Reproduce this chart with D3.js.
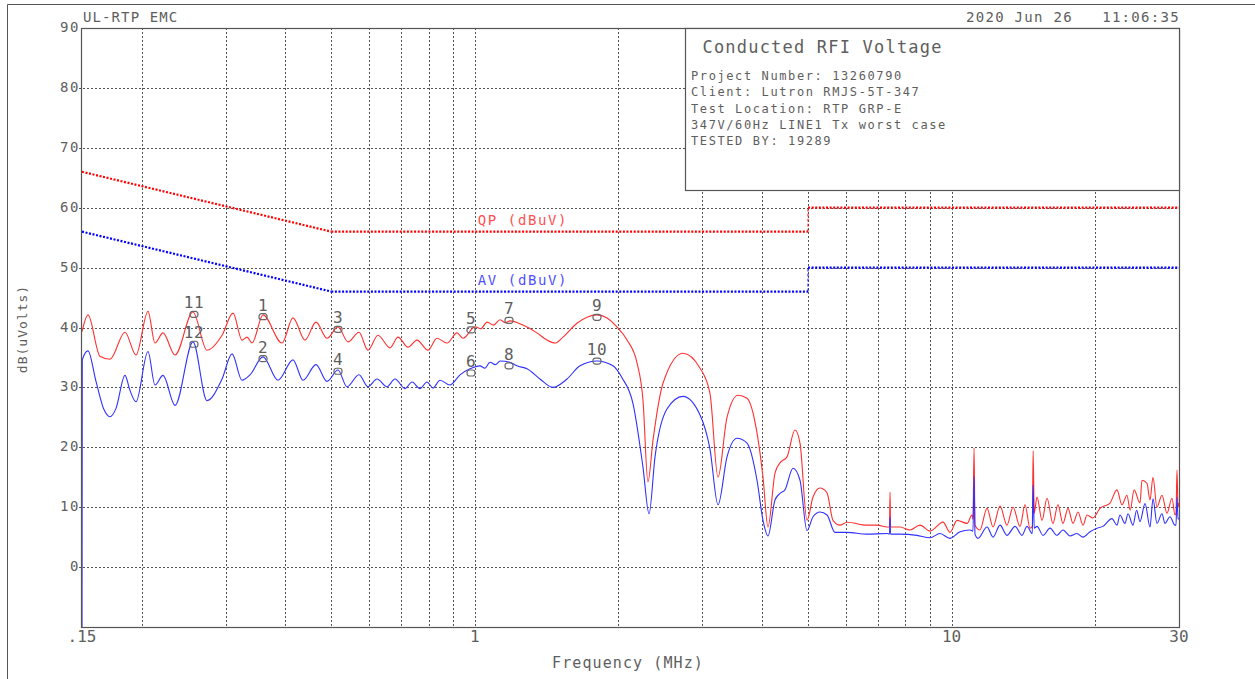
<!DOCTYPE html>
<html>
<head>
<meta charset="utf-8">
<script src="https://cdn.jsdelivr.net/npm/d3@7"></script>
<style>
  body { margin: 0; background: #fff; }
  svg { display: block; }
  text { font-family: "DejaVu Sans Mono", monospace; fill: #5e5e5e; white-space: pre; }
</style>
</head>
<body>
<svg id="emc-plot"></svg>
<script>
// QP trace (red), frequency in MHz / level in dBuV
const qpFreq = [0.150, 0.1544, 0.1636, 0.1717, 0.1846, 0.1947, 0.2063, 0.2134, 0.2218, 0.2351,
  0.2564, 0.2743, 0.2950, 0.3111, 0.3249, 0.3328, 0.3410, 0.3596, 0.3941, 0.4156,
  0.4404, 0.4644, 0.4898, 0.5165, 0.5421, 0.5716, 0.5970, 0.6266, 0.6640, 0.6901,
  0.7243, 0.7565, 0.7977, 0.8331, 0.8744, 0.9176, 0.9446, 1.001, 1.030, 1.061, 1.095, 1.130,
  1.160, 1.185, 1.262, 1.350, 1.417, 1.473, 1.531, 1.638, 1.719, 1.804, 1.894,
  1.987, 2.086, 2.189, 2.253, 2.308, 2.365, 2.482, 2.733, 2.968, 3.114,
  3.237, 3.381, 3.565, 3.724, 3.908, 4.023, 4.121, 4.263, 4.367, 4.517,
  4.695, 4.810, 4.975, 5.122, 5.298, 5.480, 5.641, 5.835, 6.036, 6.648,
  6.977, 7.322, 7.41, 7.43, 7.45, 7.796, 8.182, 8.587, 9.012, 9.596,
  9.926, 10.27, 10.78, 11.04, 11.09, 11.15, 11.20, 11.47, 11.87, 12.22,
  12.64, 13.07, 13.46, 13.92, 14.26, 14.61, 14.77, 14.83, 14.91, 15.11,
  15.48, 15.86, 16.32, 16.72, 17.13, 17.55, 17.98, 18.42, 18.87, 19.24,
  19.80, 20.48, 21.50, 22.23, 22.78, 23.33, 23.70, 24.15, 24.85, 25.09,
  25.70, 26.08, 26.46, 26.97, 27.63, 28.31, 29.00, 29.42, 29.57, 29.71,
  29.86, 30.00]
const qpLevel = [39.3, 42.1, 35.2, 34.7, 39.2, 35.4, 42.7, 37.4, 39.1, 35.4,
  42.6, 36.2, 38.7, 42.4, 37.9, 38.4, 37.4, 42.1, 37.4, 41.6,
  37.9, 40.9, 38.2, 40.1, 37.6, 39.2, 36.2, 38.7, 36.6, 38.4,
  36.7, 37.9, 36.2, 38.2, 37.4, 39.1, 38.2, 40.1, 39.8, 40.9, 40.4, 41.3,
  40.8, 41.1, 40.4, 39.1, 37.9, 37.4, 38.4, 40.7, 41.7, 42.1, 41.6,
  40.1, 37.9, 34.1, 27.9, 14.2, 21.2, 30.7, 35.7, 33.2, 29.0,
  15.0, 25.0, 28.7, 28.2, 22.4, 15.0, 6.7, 15.7, 17.4, 18.4,
  22.9, 20.7, 7.8, 11.7, 13.2, 12.4, 7.8, 7.0, 7.5, 7.0,
  7.0, 6.7, 6.7, 12.5, 6.7, 6.7, 6.2, 7.0, 6.0, 7.5,
  5.8, 7.8, 7.3, 8.7, 8.0, 19.9, 7.0, 6.2, 9.8, 6.7,
  10.2, 7.0, 10.0, 6.8, 10.4, 6.5, 6.8, 19.4, 9.0, 11.7,
  7.8, 11.5, 7.3, 10.4, 7.3, 9.8, 7.3, 9.2, 7.0, 8.7,
  8.2, 9.8, 10.7, 12.9, 10.4, 12.0, 9.5, 12.9, 10.7, 14.5,
  14.0, 11.2, 15.0, 10.0, 12.0, 9.0, 11.5, 8.7, 9.0, 16.2,
  10.0, 10.7]

// AV trace (blue)
const avFreq = [0.150, 0.1502, 0.1544, 0.1605, 0.1668, 0.1717, 0.1768, 0.1846, 0.1891, 0.1947,
  0.2063, 0.2134, 0.2218, 0.2351, 0.2564, 0.2743, 0.2950, 0.3096, 0.3249, 0.3377,
  0.3596, 0.3866, 0.4156, 0.4362, 0.4644, 0.4898, 0.5165, 0.5394, 0.5716, 0.5970,
  0.6236, 0.6544, 0.6802, 0.7139, 0.7384, 0.7675, 0.7939, 0.8172, 0.8453, 0.8871,
  0.9310, 0.9771, 1.025, 1.050, 1.076, 1.105, 1.130, 1.185, 1.226, 1.287, 1.370, 1.459,
  1.561, 1.662, 1.804, 1.949, 2.036, 2.147, 2.253, 2.320, 2.388, 2.530,
  2.733, 2.968, 3.114, 3.237, 3.381, 3.548, 3.724, 3.908, 4.023, 4.121,
  4.263, 4.367, 4.473, 4.650, 4.810, 4.975, 5.122, 5.298, 5.480, 5.696,
  6.036, 6.648, 7.322, 7.41, 7.43, 7.45, 7.796, 8.463, 9.012, 9.458,
  9.926, 10.42, 10.93, 11.09, 11.15, 11.20, 11.36, 11.87, 12.22, 12.64,
  13.07, 13.59, 14.05, 14.40, 14.77, 14.83, 14.91, 15.11, 15.56, 16.09,
  16.64, 17.13, 17.72, 18.33, 18.87, 19.52, 20.19, 20.78, 21.70, 22.23,
  22.56, 23.11, 23.45, 24.02, 24.45, 24.85, 25.46, 26.08, 26.46, 26.97,
  27.63, 28.04, 28.72, 29.42, 29.57, 29.71, 29.86, 30.00]
const avLevel = [-10, 34.6, 36.1, 31.0, 26.3, 25.1, 26.5, 32.0, 29.5, 27.6,
  36.0, 30.4, 32.0, 27.0, 37.6, 27.8, 31.4, 35.6, 31.2, 32.1,
  35.1, 31.2, 34.6, 31.2, 33.8, 31.0, 32.9, 30.1, 32.1, 30.1,
  31.4, 30.1, 31.4, 29.8, 30.9, 29.8, 30.9, 29.9, 31.2, 30.4,
  32.1, 33.1, 33.6, 33.2, 34.2, 33.8, 34.4, 34.2, 33.6, 33.1, 31.4, 30.0,
  31.4, 33.6, 34.4, 33.6, 31.6, 27.3, 16.7, 8.9, 18.4, 26.4,
  28.5, 25.4, 19.7, 10.4, 18.4, 21.5, 20.7, 14.5, 7.8, 5.2,
  11.2, 12.3, 12.9, 16.5, 14.5, 6.1, 8.4, 9.2, 8.7, 5.8,
  5.8, 5.5, 5.6, 5.5, 8.4, 5.5, 5.5, 5.3, 4.9, 5.6,
  4.8, 5.9, 6.2, 6.0, 15.1, 5.5, 4.8, 6.7, 5.0, 7.0,
  5.3, 6.8, 5.3, 6.8, 5.6, 13.7, 6.5, 6.8, 5.3, 6.5,
  5.3, 6.2, 5.2, 5.6, 5.0, 5.9, 6.5, 6.8, 8.1, 7.0,
  8.7, 7.3, 8.9, 7.0, 9.5, 7.6, 10.6, 6.7, 11.4, 7.3,
  8.9, 7.3, 8.4, 7.0, 7.0, 11.7, 8.0, 8.1]

// limit lines
const limitFreq = [0.15, 0.5, 5, 5, 30]
const qpLimit = [66, 56, 56, 60, 60]
const avLimit = [56, 46, 46, 50, 50]

// peak markers
const markerIds = ["11", "12", "1", "2", "3", "4", "5", "6", "7", "8", "9", "10"]
const markerFreq = [0.2576, 0.2576, 0.3596, 0.3596, 0.5165, 0.5165, 0.9819, 0.9819, 1.1797, 1.1797, 1.8043, 1.8043]
const markerLevel = [42.2, 37.2, 41.8, 34.8, 39.7, 32.7, 39.6, 32.4, 41.2, 33.6, 41.7, 34.4]

// axis ticks
const xTickValues = [0.15, 1, 10, 30]
const xTickLabels = [".15", "1", "10", "30"]
const yTickValues = [90, 80, 70, 60, 50, 40, 30, 20, 10, 0]

const infoLines = [
  "Project Number: 13260790",
  "Client: Lutron RMJS-5T-347",
  "Test Location: RTP GRP-E",
  "347V/60Hz LINE1 Tx worst case",
  "TESTED BY: 19289",
]

function conducted_rfi_plot() {

  // 1. Chart dimensions
  let dimensions = {
    width: 1255,
    height: 679,
    margin: {
      top: 28,
      right: 76,
      bottom: 52,
      left: 82,
    },
  }
  dimensions.boundedWidth = dimensions.width
    - dimensions.margin.left
    - dimensions.margin.right
  dimensions.boundedHeight = dimensions.height
    - dimensions.margin.top
    - dimensions.margin.bottom

  const GRID = "#555"

  // 2. Draw canvas
  const wrapper = d3.select("#emc-plot")
      .attr("width", dimensions.width)
      .attr("height", dimensions.height)

  wrapper.append("rect")
      .attr("width", dimensions.width)
      .attr("height", dimensions.height)
      .attr("fill", "#fff")

  // outer page frame (top + left edges only visible)
  wrapper.append("path")
      .attr("d", `M7.5,${dimensions.height} V4.5 H${dimensions.width}`)
      .attr("fill", "none")
      .attr("stroke", GRID)
      .attr("stroke-width", 1)

  const bounds = wrapper.append("g")
      .attr("transform", `translate(${dimensions.margin.left}, ${dimensions.margin.top})`)

  // 3. Scales
  const xScale = d3.scaleLog()
    .domain([0.15, 30])
    .range([0, dimensions.boundedWidth])

  const yScale = d3.scaleLinear()
    .domain([-10, 90])
    .range([dimensions.boundedHeight, 0])

  const crisp = v => Math.round(v) + 0.5

  // 4. Grid
  const gridFreqs = xScale.ticks().filter(f => f > 0.15 && f < 30)
  bounds.append("g").selectAll("line")
    .data(gridFreqs)
    .join("line")
      .attr("x1", d => crisp(xScale(d)))
      .attr("x2", d => crisp(xScale(d)))
      .attr("y1", 0)
      .attr("y2", dimensions.boundedHeight)
      .attr("stroke", GRID)
      .attr("stroke-dasharray", "2,2")

  bounds.append("g").selectAll("line")
    .data(yTickValues.filter(v => v < 90))
    .join("line")
      .attr("x1", -3)
      .attr("x2", dimensions.boundedWidth)
      .attr("y1", d => crisp(yScale(d)))
      .attr("y2", d => crisp(yScale(d)))
      .attr("stroke", GRID)
      .attr("stroke-dasharray", "2,2")

  // plot frame
  bounds.append("rect")
      .attr("x", -0.5)
      .attr("y", 0.5)
      .attr("width", dimensions.boundedWidth + 1)
      .attr("height", dimensions.boundedHeight)
      .attr("fill", "none")
      .attr("stroke", GRID)
      .attr("stroke-width", 1.2)

  // 5. Tick labels
  bounds.append("g").selectAll("text")
    .data(yTickValues)
    .join("text")
      .attr("x", -2)
      .attr("y", d => yScale(d) + 4)
      .attr("text-anchor", "end")
      .style("font-size", "14px")
      .style("letter-spacing", "1.6px")
      .text(d => d)

  bounds.append("g").selectAll("text")
    .data(xTickValues)
    .join("text")
      .attr("x", d => xScale(d))
      .attr("y", dimensions.boundedHeight + 15)
      .attr("text-anchor", "middle")
      .style("font-size", "16px")
      .text((d, i) => xTickLabels[i])

  bounds.append("text")
      .attr("x", 546)
      .attr("y", dimensions.boundedHeight + 41)
      .attr("text-anchor", "middle")
      .style("font-size", "15px")
      .style("letter-spacing", "1.1px")
      .text("Frequency (MHz)")

  wrapper.append("text")
      .attr("transform", "translate(27, 329) rotate(-90)")
      .attr("text-anchor", "middle")
      .style("font-size", "13px")
      .style("letter-spacing", "1px")
      .text("dB(uVolts)")

  // 6. Limit lines
  const limits = [
    { level: qpLimit, color: "#ff0000", label: "QP (dBuV)", labelColor: "#ff5050" },
    { level: avLimit, color: "#0000ff", label: "AV (dBuV)", labelColor: "#5050ff" },
  ]
  limits.forEach(lim => {
    for (let i = 0; i < limitFreq.length - 1; i++) {
      const step = limitFreq[i] === limitFreq[i + 1]
      bounds.append("line")
        .attr("x1", xScale(limitFreq[i]))
        .attr("x2", xScale(limitFreq[i + 1]))
        .attr("y1", yScale(lim.level[i]))
        .attr("y2", yScale(lim.level[i + 1]))
        .attr("stroke", lim.color)
        .attr("stroke-width", step ? 1 : 2.2)
        .attr("stroke-dasharray", step ? "3,2" : "2,1.6")
    }
    bounds.append("text")
      .attr("x", xScale(1) + 3)
      .attr("y", yScale(lim.level[1]) - 7)
      .style("font-size", "14px")
      .style("letter-spacing", "1.6px")
      .style("fill", lim.labelColor)
      .text(lim.label)
  })

  // 7. Traces
  const clip = bounds.append("clipPath").attr("id", "plot-clip")
  clip.append("rect")
      .attr("width", dimensions.boundedWidth)
      .attr("height", dimensions.boundedHeight)

  const lineGen = d3.line()
    .x(d => xScale(d[0]))
    .y(d => yScale(d[1]))
    .curve(d3.curveMonotoneX)

  const traces = [
    { freq: qpFreq, level: qpLevel, color: "#ff3030" },
    { freq: avFreq, level: avLevel, color: "#3030ff" },
  ]
  traces.forEach(t => {
    bounds.append("path")
      .attr("clip-path", "url(#plot-clip)")
      .attr("d", lineGen(d3.zip(t.freq, t.level)))
      .attr("fill", "none")
      .attr("stroke", t.color)
      .attr("stroke-width", 1.1)
  })

  // 8. Markers
  const markers = bounds.append("g").selectAll("g")
    .data(markerIds)
    .join("g")
      .attr("transform", (d, i) => `translate(${xScale(markerFreq[i])}, ${yScale(markerLevel[i])})`)

  markers.append("rect")
      .attr("x", -4)
      .attr("y", -3)
      .attr("width", 8)
      .attr("height", 6)
      .attr("rx", 2.5)
      .attr("fill", "none")
      .attr("stroke", "#666")
      .attr("stroke-width", 1.2)

  markers.append("text")
      .attr("y", -6)
      .attr("text-anchor", "middle")
      .style("font-size", "16px")
      .style("letter-spacing", "0.5px")
      .text(d => d)

  // 9. Info box
  const boxX = 603.5
  const box = bounds.append("g")
  box.append("rect")
      .attr("x", boxX)
      .attr("y", 0.5)
      .attr("width", dimensions.boundedWidth - boxX + 0.5)
      .attr("height", 162)
      .attr("fill", "#fff")
      .attr("stroke", GRID)
      .attr("stroke-width", 1.2)

  box.append("text")
      .attr("x", boxX + 17)
      .attr("y", 25)
      .style("font-size", "17px")
      .style("letter-spacing", "1.2px")
      .text("Conducted RFI Voltage")

  box.selectAll("text.info")
    .data(infoLines)
    .join("text")
      .attr("class", "info")
      .attr("x", boxX + 5.5)
      .attr("y", (d, i) => 52 + i * 16.3)
      .style("font-size", "12px")
      .style("letter-spacing", "1.6px")
      .text(d => d)

  // 10. Header
  wrapper.append("text")
      .attr("x", 83)
      .attr("y", 22)
      .style("font-size", "14px")
      .style("letter-spacing", "1.1px")
      .text("UL-RTP EMC")

  wrapper.append("text")
      .attr("x", 1180)
      .attr("y", 22)
      .attr("text-anchor", "end")
      .style("font-size", "14px")
      .style("letter-spacing", "1.3px")
      .text("2020 Jun 26   11:06:35")
}

conducted_rfi_plot()
</script>
</body>
</html>
